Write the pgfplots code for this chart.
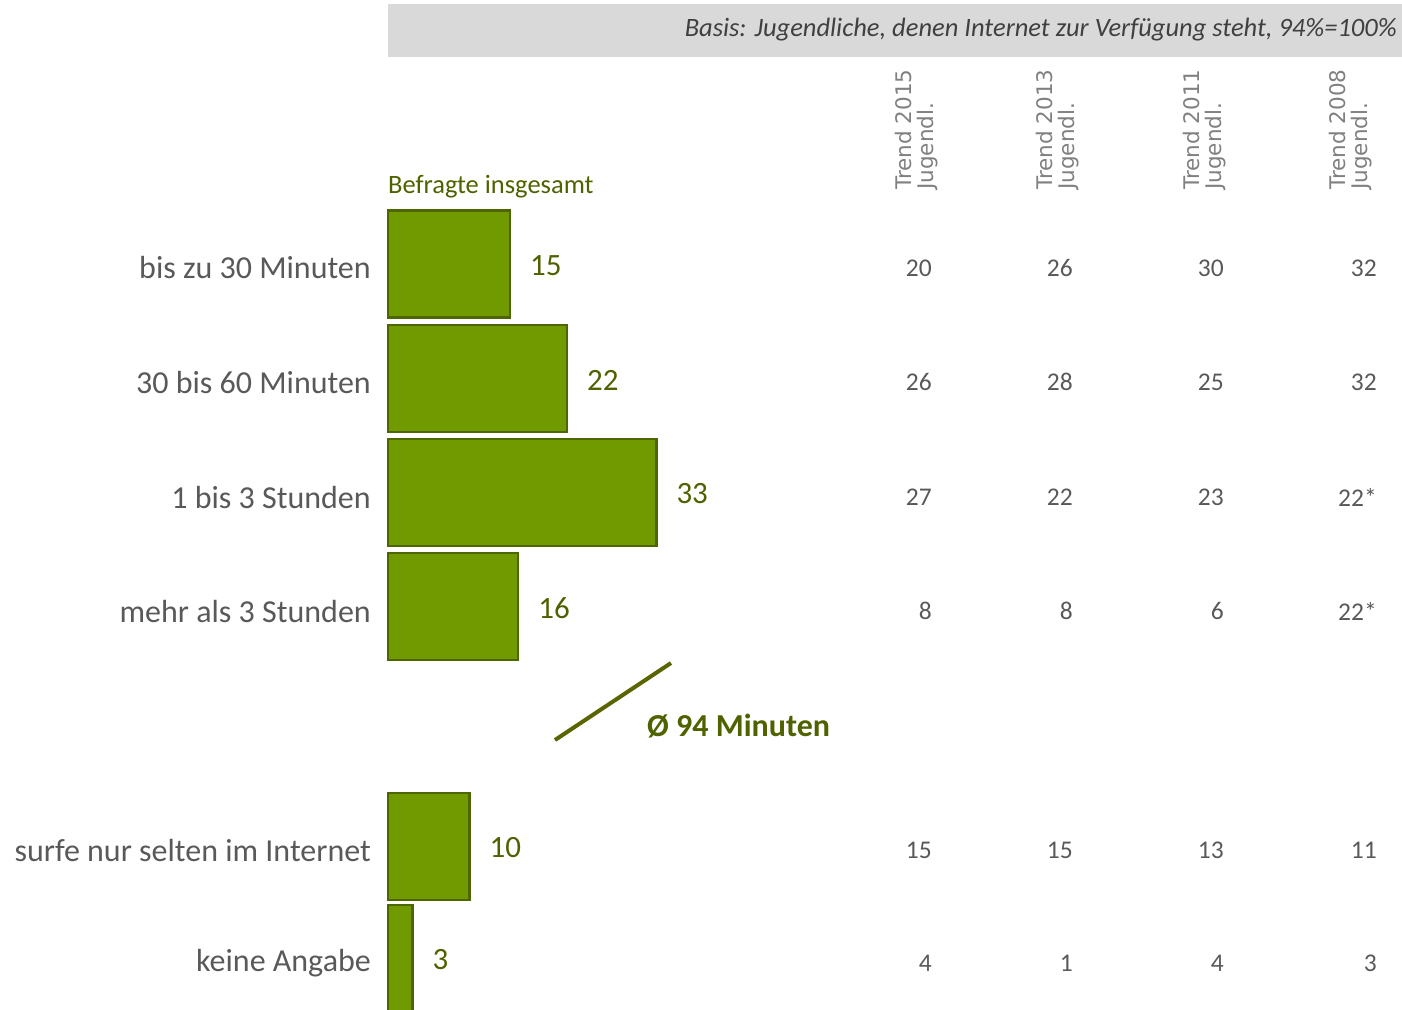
\documentclass[border=0pt]{standalone}
\usepackage{pgfplots}
\pgfplotsset{compat=1.18}
\usepackage{pgfplotstable}
\usepackage{fontspec}
\setmainfont{Carlito}
\newfontfamily\hdfont{DejaVu Sans}
\definecolor{barfill}{RGB}{112,154,0}
\definecolor{bardark}{RGB}{77,102,0}
\definecolor{olivetxt}{RGB}{79,98,0}
\definecolor{txtgray}{RGB}{89,89,89}
\definecolor{hdgray}{RGB}{128,128,128}
\definecolor{band}{RGB}{217,217,217}
\definecolor{basistxt}{RGB}{64,64,64}
\definecolor{avgline}{RGB}{90,100,0}
\def\P#1{((#1-388)/8.13)}

\pgfplotstableread{
y v lab
264 15 15
378.5 22 22
492.5 33 33
606.5 16 16
846.5 10 10
958.5 3 3
}\bars

\pgfplotstableread{
y a b c d
268 20 26 30 32
382 26 28 25 32
497 27 22 23 22*
611 8 8 6 22*
850 15 15 13 11
963 4 1 4 3
}\trend

\begin{document}
\begin{tikzpicture}
\begin{axis}[
  scale only axis, width=1402pt, height=1009pt,
  xmin={-388/8.13}, xmax={1014/8.13},
  ymin=0, ymax=1009, y dir=reverse,
  hide axis,
]
% header band
\fill[band] (axis cs:0,4) rectangle (axis cs:{\P{1402}},57);
\node[anchor=east, inner sep=0pt, text=basistxt, font=\fontsize{26.5}{30}\selectfont\itshape]
  at (axis cs:{\P{1397}},30) {Basis: Jugendliche, denen Internet zur Verfügung steht, 94\%=100\%};
% bars
\addplot[xbar, bar width=107, bar shift=0pt, fill=barfill, draw=bardark, line width=2.5pt,
  nodes near coords, point meta=explicit symbolic,
  every node near coord/.append style={anchor=west, inner sep=0pt, xshift=19pt, yshift=-1.5pt, text=olivetxt, font=\fontsize{31}{34}\selectfont}]
  table[x=v, y=y, meta=lab] {\bars};
% trend columns
\pgfplotsset{trendcol/.style={draw=none, mark=none, nodes near coords, point meta=explicit symbolic,
  every node near coord/.append style={anchor=east, inner sep=0pt, text=txtgray, font=\fontsize{25.5}{30}\selectfont}}}
\addplot[trendcol] table[x expr={\P{932}}, y=y, meta=a] {\trend};
\addplot[trendcol] table[x expr={\P{1073}}, y=y, meta=b] {\trend};
\addplot[trendcol] table[x expr={\P{1224}}, y=y, meta=c] {\trend};
\addplot[trendcol] table[x expr={\P{1377}}, y=y, meta=d] {\trend};
% column headers
\tikzset{hd/.style={rotate=90, anchor=west, align=left, inner sep=0pt, text=hdgray,
    font=\hdfont\fontsize{21.5}{22}\selectfont}}
\node[hd] at (axis cs:{\P{917}},190) {Trend 2015\\Jugendl.};
\node[hd] at (axis cs:{\P{1058}},190) {Trend 2013\\Jugendl.};
\node[hd] at (axis cs:{\P{1205}},190) {Trend 2011\\Jugendl.};
\node[hd] at (axis cs:{\P{1351}},190) {Trend 2008\\Jugendl.};
% Befragte insgesamt
\node[anchor=west, inner sep=0pt, text=olivetxt, font=\fontsize{26.5}{30}\selectfont] at (axis cs:0,187) {Befragte insgesamt};
% category labels
\tikzset{cat/.style={anchor=east, inner sep=0pt, text=txtgray, font=\fontsize{32}{34}\selectfont}}
\node[cat] at (axis cs:{\P{371}},268) {bis zu 30 Minuten};
\node[cat] at (axis cs:{\P{371}},382) {30 bis 60 Minuten};
\node[cat] at (axis cs:{\P{371}},497) {1 bis 3 Stunden};
\node[cat] at (axis cs:{\P{371}},611) {mehr als 3 Stunden};
\node[cat] at (axis cs:{\P{371}},850) {surfe nur selten im Internet};
\node[cat] at (axis cs:{\P{371}},963) {keine Angabe};
% average
\draw[line width=4pt, draw=avgline] (axis cs:{\P{555}},740) -- (axis cs:{\P{671}},663);
\node[anchor=west, inner sep=0pt, text=olivetxt, font=\fontsize{32}{34}\selectfont\bfseries] at (axis cs:{\P{647}},726) {Ø 94 Minuten};
\end{axis}
\pgfresetboundingbox
\path[use as bounding box] (current axis.south west) rectangle (current axis.north east);
\end{tikzpicture}
\end{document}
